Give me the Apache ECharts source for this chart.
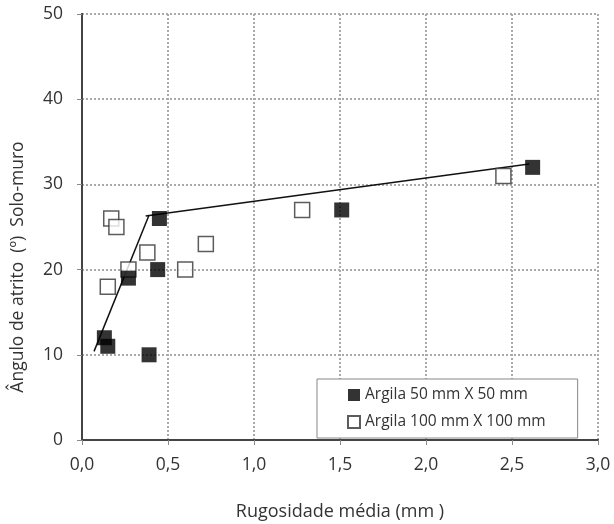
<!DOCTYPE html>
<html>
<head>
<meta charset="utf-8">
<script src="https://cdn.jsdelivr.net/npm/echarts@6/dist/echarts.min.js"></script>
<style>
  html, body { margin: 0; padding: 0; background: #fff; }
  #chart { width: 614px; height: 524px; }
</style>
</head>
<body>
<div id="chart"></div>
<script>
// Argila 50 mm X 50 mm (filled squares)
const argila50 = [
  [0.13, 12], [0.15, 11], [0.27, 19], [0.39, 10],
  [0.44, 20], [0.45, 26], [1.51, 27], [2.62, 32]
];
// Argila 100 mm X 100 mm (open squares)
const argila100 = [
  [0.17, 26], [0.20, 25], [0.15, 18], [0.27, 20], [0.38, 22],
  [0.60, 20], [0.72, 23], [1.28, 27], [2.45, 31]
];
// two straight trend segments
const trendLow = [[0.07, 10.4], [0.39, 26.4]];
const trendHigh = [[0.37, 26.3], [2.60, 32.4]];

const xTicks = [0, 0.5, 1, 1.5, 2, 2.5, 3];
const yTicks = [0, 10, 20, 30, 40, 50];

const font = "'Open Sans', 'Noto Sans', sans-serif";

var chart = echarts.init(document.getElementById("chart"));

var option = {
  animation: false,
  textStyle: { fontFamily: font },
  grid: { left: 82, right: 16, top: 14, bottom: 84, outerBoundsMode: "none", containLabel: false },
  legend: {
    orient: "vertical",
    left: 317,
    top: 379,
    data: ["Argila 50 mm X 50 mm", "Argila 100 mm X 100 mm"],
    backgroundColor: "#fff",
    borderColor: "#888",
    borderWidth: 1,
    borderRadius: 0,
    padding: [8, 32, 8, 30],
    itemWidth: 12,
    itemHeight: 12,
    itemGap: 11,
    textStyle: { fontSize: 15.5, color: "#333", fontFamily: font },
  },
  xAxis: [
    {
      type: "value",
      min: xTicks[0],
      max: xTicks[xTicks.length - 1],
      interval: 0.5,
      name: "Rugosidade média (mm )",
      nameLocation: "middle",
      nameGap: 63,
      nameTextStyle: { fontSize: 18, color: "#333" },
      axisLine: { show: true, lineStyle: { color: "#444", width: 2 } },
      axisTick: { show: true, length: 5, lineStyle: { color: "#888" } },
      axisLabel: {
        fontSize: 17.5,
        color: "#333",
        margin: 16,
        formatter: function(v) {
          return v.toFixed(1).replace(".", ",");
        },
      },
      splitLine: { show: true, lineStyle: { color: "#aaa", type: "dotted", width: 2 } },
    },
    {
      type: "value",
      position: "top",
      min: 0,
      max: 3,
      interval: 0.5,
      axisLine: { show: true, lineStyle: { color: "#444", width: 2 } },
      axisTick: { show: false },
      axisLabel: { show: false },
      splitLine: { show: false },
    },
  ],
  yAxis: [
    {
      type: "value",
      min: yTicks[0],
      max: yTicks[yTicks.length - 1],
      interval: 10,
      axisLine: { show: true, lineStyle: { color: "#444", width: 2 } },
      axisTick: { show: true, length: 5, lineStyle: { color: "#888" } },
      axisLabel: { fontSize: 17.5, color: "#333", margin: 19 },
      splitLine: { show: true, lineStyle: { color: "#aaa", type: "dotted", width: 2 } },
    },
    {
      type: "value",
      position: "right",
      min: 0,
      max: 50,
      interval: 10,
      axisLine: { show: true, lineStyle: { color: "#444", width: 2 } },
      axisTick: { show: false },
      axisLabel: { show: false },
      splitLine: { show: false },
    },
  ],
  graphic: [
    {
      type: "text",
      x: 18,
      y: 267,
      rotation: Math.PI / 2,
      style: {
        text: "Ângulo de atrito  (º)  Solo-muro",
        fontSize: 17.5,
        fontFamily: font,
        fill: "#333",
        align: "center",
        verticalAlign: "middle",
      },
    },
  ],
  series: [
    {
      type: "line",
      data: trendLow,
      symbol: "none",
      lineStyle: { color: "#111", width: 1.5 },
      z: 1,
    },
    {
      type: "line",
      data: trendHigh,
      symbol: "none",
      lineStyle: { color: "#111", width: 1.5 },
      z: 1,
    },
    {
      name: "Argila 100 mm X 100 mm",
      type: "scatter",
      data: argila100,
      symbol: "rect",
      symbolSize: 15,
      itemStyle: { color: "#fff", borderColor: "#333", borderWidth: 1.5 },
      z: 3,
    },
    {
      name: "Argila 50 mm X 50 mm",
      type: "scatter",
      data: argila50,
      symbol: "rect",
      symbolSize: 15,
      itemStyle: { color: "#000" },
      z: 4,
    },
  ],
};

chart.setOption(option);
</script>
</body>
</html>
